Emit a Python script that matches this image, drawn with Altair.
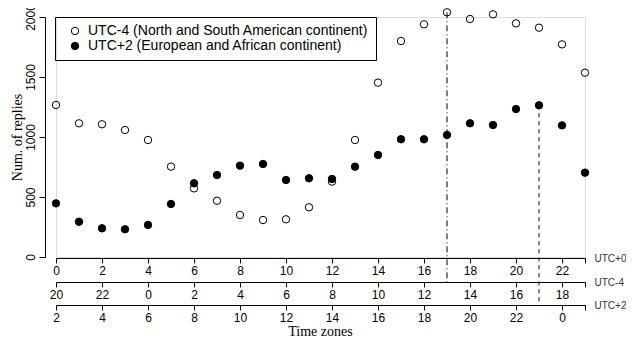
import altair as alt
import pandas as pd

hours = list(range(24))
utc_m4 = [1267, 1114, 1106, 1058, 975, 753, 572, 469, 350, 308, 314, 414,
          628, 975, 1453, 1800, 1939, 2039, 1983, 2022, 1947, 1911, 1772, 1536]
utc_p2 = [447, 294, 239, 231, 267, 442, 614, 683, 761, 775, 642, 656,
          650, 753, 850, 981, 981, 1017, 1114, 1100, 1233, 1264, 1097, 703]
name_m4 = "UTC-4 (North and South American continent)"
name_p2 = "UTC+2 (European and African continent)"
tick_vals = [0, 2, 4, 6, 8, 10, 12, 14, 16, 18, 20, 22, 23]
y_ticks = [0, 500, 1000, 1500, 2000]
rule1 = {"x": [17], "top": [2039]}
rule2 = {"x": [21], "top": [1264]}

W, H = 529, 240
OFF = [1, 25, 48]

df = pd.DataFrame({
    "x": hours * 2,
    "y": utc_p2 + utc_m4,
    "series": [name_p2] * 24 + [name_m4] * 24,
})

SANS = "Liberation Sans"
SERIF = "Liberation Serif"


def xaxis(offset, expr, title):
    return alt.Axis(
        orient="bottom", offset=offset, values=tick_vals, labelExpr=expr,
        grid=False, domainColor="black", tickColor="black", tickSize=5,
        labelFont=SANS, labelFontSize=12, labelColor="black", labelPadding=2,
        labelOverlap=False, labelFlush=False, labelBound=False,
        title=title, titleFont=SANS, titleFontSize=10, titleFontWeight="normal",
        titleColor="#333", titleX=W + 9, titleY=0, titleAlign="left",
        titleBaseline="middle", titleAngle=0,
    )


yaxis = alt.Axis(
    values=y_ticks, offset=11, grid=False, domainColor="black", tickColor="black",
    tickSize=6, labelAngle=-90, labelAlign="center", labelBaseline="bottom",
    labelExpr="datum.value",
    labelFont=SANS, labelFontSize=12, labelColor="black", labelPadding=2,
    title="Num. of replies", titleFont=SERIF, titleFontSize=14,
    titleFontWeight="normal", titleColor="black", titlePadding=0)

xscale = alt.Scale(domain=[0, 23], nice=False, zero=False)
yscale = alt.Scale(domain=[0, 2000], nice=False)

points = alt.Chart(df).mark_point(
    shape="circle", filled=True, stroke="black", strokeWidth=1, size=55, opacity=1
).encode(
    x=alt.X("x:Q", scale=xscale,
            axis=xaxis(OFF[0], "datum.value == 23 ? '' : datum.value", "UTC+0")),
    y=alt.Y("y:Q", scale=yscale, axis=yaxis),
    fill=alt.Fill("series:N", scale=alt.Scale(domain=[name_m4, name_p2],
                                               range=["transparent", "black"]),
                  legend=alt.Legend(
                      title=None, orient="none", legendX=-1, legendY=0,
                      strokeColor="black", padding=7, labelFont=SANS,
                      labelFontSize=14, labelColor="black", symbolSize=55,
                      symbolStrokeColor="black", symbolStrokeWidth=1,
                      symbolType="circle", rowPadding=1, labelOffset=6,
                      symbolOffset=6, labelLimit=500)),
)

r1 = alt.Chart(pd.DataFrame(rule1)).mark_rule(
    color="black", strokeWidth=1, strokeDash=[6, 3, 1, 3]
).encode(
    x=alt.X("x:Q", scale=xscale,
            axis=xaxis(OFF[1], "datum.value == 23 ? '' : (datum.value + 20) % 24", "UTC-4")),
    y=alt.Y("top:Q", scale=yscale, axis=yaxis),
    y2=alt.value(H + OFF[1]),
)

r2 = alt.Chart(pd.DataFrame(rule2)).mark_rule(
    color="black", strokeWidth=1, strokeDash=[4, 4]
).encode(
    x=alt.X("x:Q", scale=xscale,
            axis=xaxis(OFF[2], "datum.value == 23 ? '' : (datum.value + 2) % 24", "UTC+2")),
    y=alt.Y("top:Q", scale=yscale, axis=yaxis),
    y2=alt.value(H + OFF[2]),
)

chart = alt.layer(r1, r2, points).resolve_scale(x="independent").properties(
    width=W, height=H,
    autosize=alt.AutoSizeParams(type="none"),
    padding={"left": 48, "top": 9, "right": 41, "bottom": 82},
    title=alt.TitleParams("Time zones", orient="bottom", font=SERIF, fontSize=14,
                          fontWeight="normal", color="black", offset=2),
).configure_view(stroke=None).configure(background="white")

chart.save("out.html", embed_options={"renderer": "svg", "actions": False})
